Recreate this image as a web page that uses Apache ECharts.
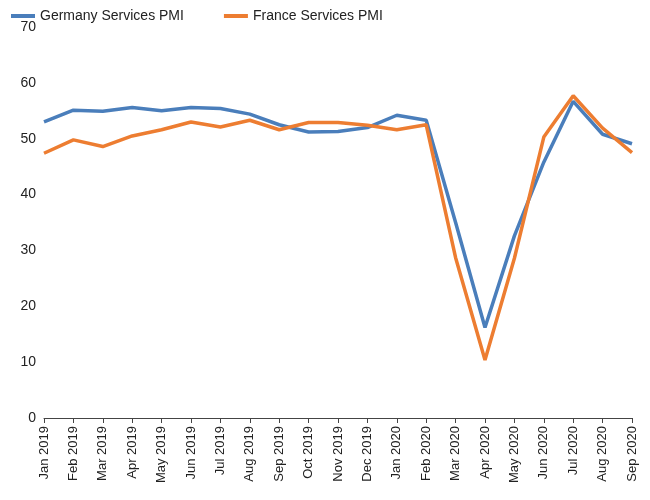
<!DOCTYPE html>
<html>
<head>
<meta charset="utf-8">
<script src="https://cdn.jsdelivr.net/npm/echarts@6/dist/echarts.min.js"></script>
<style>html,body{margin:0;padding:0;background:#fff}#main{width:650px;height:500px}</style>
</head>
<body>
<div id="main"></div>
<script>
let months = ['Jan 2019', 'Feb 2019', 'Mar 2019', 'Apr 2019', 'May 2019', 'Jun 2019', 'Jul 2019',
    'Aug 2019', 'Sep 2019', 'Oct 2019', 'Nov 2019', 'Dec 2019', 'Jan 2020', 'Feb 2020', 'Mar 2020',
    'Apr 2020', 'May 2020', 'Jun 2020', 'Jul 2020', 'Aug 2020', 'Sep 2020'];
let germany = [53.0, 55.1, 54.9, 55.6, 55.0, 55.6, 55.4, 54.4, 52.5, 51.2, 51.3, 52.0, 54.2, 53.3,
    35.0, 16.2, 32.6, 45.8, 56.7, 50.8, 49.1];
let france = [47.4, 49.8, 48.6, 50.5, 51.6, 53.0, 52.1, 53.3, 51.6, 52.9, 52.9, 52.4, 51.6, 52.5,
    28.7, 10.4, 28.6, 50.3, 57.7, 51.9, 47.5];

let myChart = echarts.init(document.getElementById('main'));
let option = {
    animation: false,
    textStyle: { fontFamily: 'Liberation Sans' },
    legend: {
        left: 6, top: 4, itemGap: 40, itemWidth: 24, itemHeight: 4,
        icon: 'rect',
        textStyle: { fontSize: 14, color: '#222' },
        data: ['Germany Services PMI', 'France Services PMI']
    },
    grid: { left: 44, right: 18, top: 27, bottom: 82 },
    xAxis: {
        type: 'category',
        data: months,
        boundaryGap: false,
        axisLine: { lineStyle: { color: '#444' } },
        axisTick: { alignWithLabel: true, lineStyle: { color: '#444' } },
        axisLabel: { rotate: 90, fontSize: 13, color: '#222', interval: 0 }
    },
    yAxis: {
        type: 'value',
        min: 0, max: 70, interval: 10,
        splitLine: { show: false },
        axisLine: { show: false },
        axisLabel: { fontSize: 14, color: '#222' }
    },
    series: [
        { name: 'Germany Services PMI', type: 'line', data: germany, symbol: 'none',
          lineStyle: { width: 3.5, color: '#4a7ebb' }, itemStyle: { color: '#4a7ebb' } },
        { name: 'France Services PMI', type: 'line', data: france, symbol: 'none',
          lineStyle: { width: 3.5, color: '#ed7d31' }, itemStyle: { color: '#ed7d31' } }
    ]
};
myChart.setOption(option);
</script>
</body>
</html>
